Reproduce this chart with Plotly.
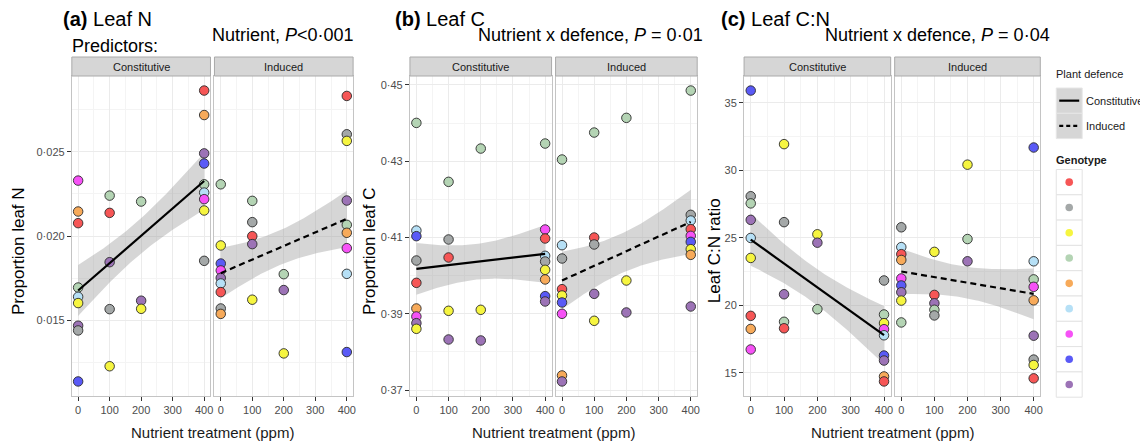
import numpy as np
import plotly.graph_objects as go

W, H = 1148, 445
OFF = 8  # page body margin of the browser page

# ---------------- data ----------------
# genotype index: 0 red, 1 grey, 2 yellow, 3 green, 4 orange, 5 light blue, 6 magenta, 7 blue, 8 purple
genotype_ids = [0, 1, 2, 3, 4, 5, 6, 7, 8]
defence_levels = ["Constitutive", "Induced"]
x_ticks = [0, 100, 200, 300, 400]

# (a) Leaf N
leafN_con_dose = [0, 0, 0, 0, 0, 0, 0, 0, 0, 100, 100, 100, 100, 100, 200, 200, 200,
                  400, 400, 400, 400, 400, 400, 400, 400, 400]
leafN_con_geno = [6, 4, 0, 3, 5, 2, 8, 1, 7, 3, 0, 8, 1, 2, 3, 8, 2, 0, 4, 8, 7, 3, 5, 6, 2, 1]
leafN_con_val = [0.02329, 0.02146, 0.02077, 0.01696, 0.01641, 0.01604, 0.01470, 0.01442, 0.01140,
                 0.02240, 0.02138, 0.01846, 0.01568, 0.01230,
                 0.02205, 0.01618, 0.01570,
                 0.02862, 0.02717, 0.02490, 0.02430, 0.02307, 0.02258, 0.02219, 0.02152, 0.01854]

leafN_ind_dose = leafN_con_dose
leafN_ind_geno = [3, 2, 7, 6, 8, 5, 0, 1, 4, 3, 1, 0, 8, 2, 3, 8, 2, 0, 1, 2, 8, 3, 4, 6, 5, 7]
leafN_ind_val = [0.02307, 0.01945, 0.01838, 0.01797, 0.01753, 0.01720, 0.01669, 0.01572, 0.01540,
                 0.02209, 0.02083, 0.02000, 0.01953, 0.01624,
                 0.01775, 0.01681, 0.01306,
                 0.02830, 0.02603, 0.02564, 0.02211, 0.02067, 0.02020, 0.01929, 0.01777, 0.01314]

# (b) Leaf C
leafC_con_dose = leafN_con_dose
leafC_con_geno = [3, 5, 7, 1, 0, 4, 6, 8, 2, 3, 1, 0, 2, 8, 3, 2, 8, 3, 6, 0, 5, 1, 2, 4, 7, 8]
leafC_con_val = [0.44004, 0.41183, 0.41035, 0.40397, 0.39812, 0.39140, 0.38930, 0.38755, 0.38607,
                 0.42459, 0.40948, 0.40476, 0.39079, 0.38327,
                 0.43332, 0.39105, 0.38301,
                 0.43463, 0.41210, 0.40974, 0.40520, 0.40371, 0.40153, 0.39900, 0.39463, 0.39323]

leafC_ind_dose = leafN_con_dose
leafC_ind_geno = [3, 5, 1, 0, 2, 7, 6, 4, 8, 3, 0, 1, 8, 2, 3, 2, 8, 3, 1, 5, 0, 6, 7, 2, 4, 8]
leafC_ind_val = [0.43044, 0.40799, 0.40450, 0.39646, 0.39480, 0.39297, 0.39000, 0.37384, 0.37227,
                 0.43751, 0.41000, 0.40817, 0.39524, 0.38817,
                 0.44136, 0.39873, 0.39035,
                 0.44852, 0.41594, 0.41445, 0.41218, 0.41044, 0.40886, 0.40694, 0.40546, 0.39192]

# (c) Leaf C:N
leafCN_con_dose = leafN_con_dose
leafCN_con_geno = [7, 1, 3, 8, 5, 2, 0, 4, 6, 2, 1, 8, 3, 0, 2, 8, 3, 1, 3, 2, 6, 5, 7, 8, 4, 0]
leafCN_con_val = [35.90, 28.07, 27.54, 26.32, 24.98, 23.50, 19.21, 18.24, 16.72,
                  31.93, 26.15, 20.81, 18.77, 18.29,
                  25.25, 24.63, 19.70,
                  21.83, 19.31, 18.67, 18.22, 17.77, 16.27, 15.90, 14.72, 14.35]

leafCN_ind_dose = leafN_con_dose
leafCN_ind_geno = [1, 5, 0, 4, 6, 7, 8, 2, 3, 2, 0, 8, 3, 1, 2, 3, 8, 7, 5, 3, 6, 4, 8, 1, 2, 0]
leafCN_ind_val = [25.77, 24.30, 23.78, 23.35, 21.98, 21.46, 20.96, 20.34, 18.72,
                  23.95, 20.76, 20.14, 19.66, 19.24,
                  30.41, 24.90, 23.25,
                  31.68, 23.25, 21.91, 21.36, 20.36, 17.74, 15.97, 15.57, 14.58]

# y axis ticks
leafN_ticks = [0.015, 0.020, 0.025]
leafN_ticktext = ["0·015", "0·020", "0·025"]
leafN_minor = [0.0125, 0.0175, 0.0225, 0.0275]
leafC_ticks = [0.37, 0.39, 0.41, 0.43, 0.45]
leafC_ticktext = ["0·37", "0·39", "0·41", "0·43", "0·45"]
leafC_minor = [0.38, 0.40, 0.42, 0.44]
leafCN_ticks = [15, 20, 25, 30, 35]
leafCN_ticktext = ["15", "20", "25", "30", "35"]
leafCN_minor = [17.5, 22.5, 27.5, 32.5]

# ---------------- style ----------------
geno_colors = ["#F65656", "#A4A8A8", "#F6F540", "#B4D4B4", "#F7AA5A",
               "#B6E0F6", "#F652F6", "#5A5AF6", "#9C73B6"]
FONT = "Liberation Sans, Arial, Helvetica, sans-serif"
Z_BAND = 1.4395  # normal quantile used for the confidence band (visual match)


def px(x):
    return (x - OFF) / W


def py(y):
    return 1 - (y - OFF) / H


PLOT_TOP, PLOT_BOT = 76, 396
STRIP_TOP = 57

panels = [
    dict(title="<b>(a)</b> Leaf N", tx=62,
         sub="Nutrient, <i>P</i><0·001", sub_r=357,
         ytitle="Proportion leaf N", ytx=18,
         cols=[(72, 211), (215, 354)],
         data=[(leafN_con_dose, leafN_con_geno, leafN_con_val),
               (leafN_ind_dose, leafN_ind_geno, leafN_ind_val)],
         ticks=(leafN_ticks, leafN_ticktext, leafN_minor)),
    dict(title="<b>(b)</b> Leaf C", tx=395,
         sub="Nutrient x defence, <i>P</i> = 0·01", sub_r=707,
         ytitle="Proportion leaf C", ytx=370,
         cols=[(411, 553), (557, 699)],
         data=[(leafC_con_dose, leafC_con_geno, leafC_con_val),
               (leafC_ind_dose, leafC_ind_geno, leafC_ind_val)],
         ticks=(leafC_ticks, leafC_ticktext, leafC_minor)),
    dict(title="<b>(c)</b> Leaf C:N", tx=722,
         sub="Nutrient x defence, <i>P</i> = 0·04", sub_r=1055,
         ytitle="Leaf C:N ratio", ytx=716,
         cols=[(746, 893), (897, 1043)],
         data=[(leafCN_con_dose, leafCN_con_geno, leafCN_con_val),
               (leafCN_ind_dose, leafCN_ind_geno, leafCN_ind_val)],
         ticks=(leafCN_ticks, leafCN_ticktext, leafCN_minor)),
]


def t_quant(z, df):
    g1 = (z**3 + z) / 4
    g2 = (5 * z**5 + 16 * z**3 + 3 * z) / 96
    g3 = (3 * z**7 + 19 * z**5 + 17 * z**3 - 15 * z) / 384
    return z + g1 / df + g2 / df**2 + g3 / df**3


def lm_fit(x, y):
    x = np.asarray(x, float)
    y = np.asarray(y, float)
    n = len(x)
    xb = x.mean()
    sxx = ((x - xb) ** 2).sum()
    b = ((x - xb) * (y - y.mean())).sum() / sxx
    a = y.mean() - b * xb
    s = np.sqrt(((y - a - b * x) ** 2).sum() / (n - 2))
    xs = np.linspace(x.min(), x.max(), 80)
    fit = a + b * xs
    se = s * np.sqrt(1 / n + (xs - xb) ** 2 / sxx)
    t = t_quant(Z_BAND, n - 2)
    return xs, fit, fit - t * se, fit + t * se


fig = go.Figure()
layout = dict(
    width=W, height=H, autosize=False,
    margin=dict(l=0, r=0, t=0, b=0, pad=0),
    paper_bgcolor="white", plot_bgcolor="white",
    showlegend=False,
    font=dict(family=FONT, color="#1A1A1A"),
)
shapes = []
annotations = []

k = 0
for p in panels:
    allv = p["data"][0][2] + p["data"][1][2]
    lo, hi = min(allv), max(allv)
    ext = 0.05 * (hi - lo)
    yrange = [lo - ext, hi + ext]
    tv, tt, mv = p["ticks"]
    for j, (x0, x1) in enumerate(p["cols"]):
        k += 1
        xa = "x" if k == 1 else f"x{k}"
        ya = "y" if k == 1 else f"y{k}"
        dose, geno, val = p["data"][j]
        # ribbon + fit
        xs, fit, lwr, upr = lm_fit(dose, val)
        fig.add_trace(go.Scatter(
            x=np.concatenate([xs, xs[::-1]]), y=np.concatenate([upr, lwr[::-1]]),
            fill="toself", fillcolor="rgba(153,153,153,0.4)", line=dict(width=0),
            mode="lines", hoverinfo="skip", xaxis=xa, yaxis=ya))
        fig.add_trace(go.Scatter(
            x=dose, y=val, mode="markers", xaxis=xa, yaxis=ya,
            marker=dict(size=9.5, color=[geno_colors[g] for g in geno],
                        line=dict(width=0.9, color="#2A2A2A"))))
        fig.add_trace(go.Scatter(
            x=xs, y=fit, mode="lines", xaxis=xa, yaxis=ya,
            line=dict(color="black", width=2.2, dash="solid" if j == 0 else "6px,4px")))

        layout["xaxis" if k == 1 else f"xaxis{k}"] = dict(
            domain=[px(x0), px(x1)], anchor=ya, range=[-20, 420],
            tickmode="array", tickvals=x_ticks, ticktext=[str(v) for v in x_ticks],
            ticks="outside", ticklen=4, tickwidth=1, tickcolor="#333333",
            tickfont=dict(size=11, color="#4D4D4D", family=FONT),
            showgrid=True, gridcolor="#EBEBEB", gridwidth=1,
            minor=dict(tickmode="array", tickvals=[50, 150, 250, 350], showgrid=True,
                       gridcolor="#F4F4F4", gridwidth=0.7, ticks=""),
            zeroline=False, showline=True, mirror=True, linecolor="#C4C4C4", linewidth=1,
            fixedrange=True)
        layout["yaxis" if k == 1 else f"yaxis{k}"] = dict(
            domain=[py(PLOT_BOT), py(PLOT_TOP)], anchor=xa, range=yrange,
            tickmode="array", tickvals=tv, ticktext=tt,
            ticks="outside" if j == 0 else "", ticklen=4, tickwidth=1, tickcolor="#333333",
            showticklabels=(j == 0),
            tickfont=dict(size=11, color="#4D4D4D", family=FONT),
            showgrid=True, gridcolor="#EBEBEB", gridwidth=1,
            minor=dict(tickmode="array", tickvals=mv, showgrid=True,
                       gridcolor="#F4F4F4", gridwidth=0.7, ticks=""),
            zeroline=False, showline=True, mirror=True, linecolor="#C4C4C4", linewidth=1,
            fixedrange=True)
        # strip
        shapes.append(dict(type="rect", xref="paper", yref="paper",
                           x0=px(x0), x1=px(x1), y0=py(PLOT_TOP), y1=py(STRIP_TOP),
                           fillcolor="#D6D6D6", line=dict(color="#AAAAAA", width=1)))
        annotations.append(dict(text=defence_levels[j], xref="paper", yref="paper",
                                x=px((x0 + x1) / 2), y=py(67), xanchor="center", yanchor="middle",
                                showarrow=False, font=dict(size=11, color="#1A1A1A")))
    # titles
    annotations.append(dict(text=p["title"], xref="paper", yref="paper", x=px(p["tx"]), y=py(19),
                            xanchor="left", yanchor="middle", showarrow=False, borderpad=0,
                            font=dict(size=20, color="black")))
    annotations.append(dict(text=p["sub"], xref="paper", yref="paper", x=px(p["sub_r"]), y=py(35),
                            xanchor="right", yanchor="middle", showarrow=False,
                            font=dict(size=18, color="black")))
    annotations.append(dict(text=p["ytitle"], xref="paper", yref="paper", x=px(p["ytx"]), y=py(251),
                            xanchor="center", yanchor="middle", textangle=-90, showarrow=False,
                            font=dict(size=17, color="black")))
    xc = (p["cols"][0][0] + p["cols"][1][1]) / 2
    annotations.append(dict(text="Nutrient treatment (ppm)", xref="paper", yref="paper",
                            x=px(xc), y=py(432), xanchor="center", yanchor="middle",
                            showarrow=False, font=dict(size=15, color="#1A1A1A")))

annotations.append(dict(text="Predictors:", xref="paper", yref="paper", x=px(70), y=py(46),
                        xanchor="left", yanchor="middle", showarrow=False,
                        font=dict(size=18, color="black")))

# ---------------- legends (drawn) ----------------
LX0, LX1 = 1059, 1085
annotations.append(dict(text="Plant defence", xref="paper", yref="paper", x=px(1057), y=py(74),
                        xanchor="left", yanchor="middle", showarrow=False,
                        font=dict(size=11, color="#1A1A1A")))
key_h = 25.3
for i, lvl in enumerate(defence_levels):
    y0 = 88 + i * key_h
    shapes.append(dict(type="rect", xref="paper", yref="paper", x0=px(LX0), x1=px(LX1),
                       y0=py(y0 + key_h), y1=py(y0), fillcolor="#D6D6D6",
                       line=dict(color="#E6E6E6", width=1)))
    shapes.append(dict(type="line", xref="paper", yref="paper", x0=px(LX0 + 3), x1=px(LX1 - 3),
                       y0=py(y0 + key_h / 2), y1=py(y0 + key_h / 2),
                       line=dict(color="black", width=2.2, dash="solid" if i == 0 else "4px,3px")))
    annotations.append(dict(text=lvl, xref="paper", yref="paper", x=px(1087), y=py(y0 + key_h / 2),
                            xanchor="left", yanchor="middle", showarrow=False,
                            font=dict(size=11, color="#1A1A1A")))

annotations.append(dict(text="<b>Genotype</b>", xref="paper", yref="paper", x=px(1057), y=py(160),
                        xanchor="left", yanchor="middle", showarrow=False,
                        font=dict(size=11, color="#1A1A1A")))
for i, g in enumerate(genotype_ids):
    y0 = 169.5 + i * key_h
    shapes.append(dict(type="rect", xref="paper", yref="paper", x0=px(LX0), x1=px(LX1),
                       y0=py(y0 + key_h), y1=py(y0), fillcolor="white",
                       line=dict(color="#E3E3E3", width=1)))
    cx, cy, r = (LX0 + LX1) / 2, y0 + key_h / 2, 3.8
    shapes.append(dict(type="circle", xref="paper", yref="paper",
                       x0=px(cx - r), x1=px(cx + r), y0=py(cy + r), y1=py(cy - r),
                       fillcolor=geno_colors[g], line=dict(width=0)))

layout["shapes"] = shapes
layout["annotations"] = annotations
fig.update_layout(**layout)
fig.write_html("out.html")
